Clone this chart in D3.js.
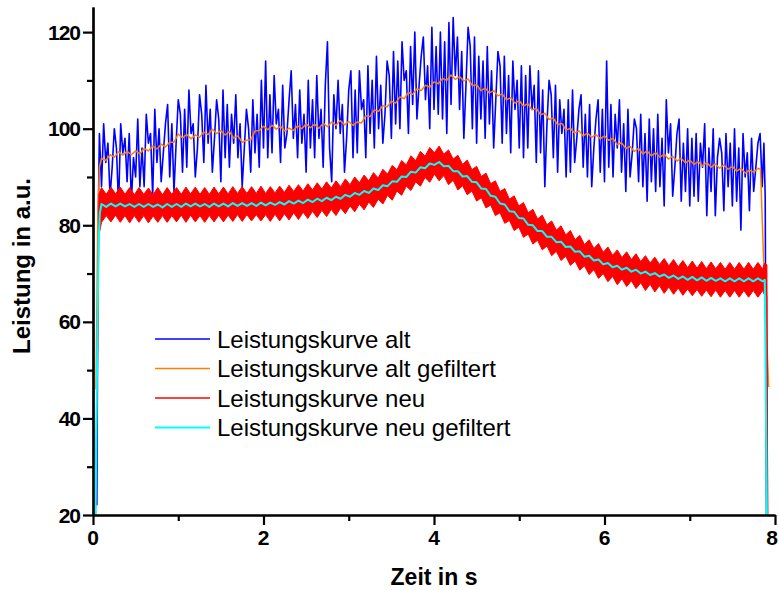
<!DOCTYPE html>
<html><head><meta charset="utf-8">
<script src="https://cdn.jsdelivr.net/npm/d3@7"></script>
<style>body{margin:0;background:#fff}svg{display:block}text{font-family:"Liberation Sans",Arial,sans-serif}</style>
</head><body><svg id="c" width="779" height="590"></svg>
<script>
// ---------- axes ----------
const xTicks = [0, 2, 4, 6, 8];
const xMinorTicks = [1, 3, 5, 7];
const yTicks = [20, 40, 60, 80, 100, 120];
const yMinorTicks = [30, 50, 70, 90, 110];
const xTitle = "Zeit in s";
const yTitle = "Leistung in a.u.";
const seriesNames = ["Leistungskurve alt", "Leistungskurve alt gefiltert", "Leistungskurve neu", "Leistungskurve neu gefiltert"];

// ---------- Leistungskurve alt (blue), sampled every 0.025 s from 0.075 s ----------
const altStart = 0.075, altStep = 0.025;
const altHeadT = [0.045, 0.06], altHeadV = [22, 80];
const altVals = [
99,88,101,93,97,86,92,100,96,84,101,95,98,89,99,85,94,90,102,88,
96,88,103,97,99,86,104,93,100,89,95,101,105,90,101,87,97,106,103,91,
104,92,108,99,101,90,96,107,103,93,109,97,104,91,98,106,102,89,108,94,
105,92,103,97,107,94,101,88,96,104,100,91,106,95,103,92,110,96,114,94,
107,95,111,101,104,93,109,96,99,106,112,98,105,94,108,97,103,91,110,96,
106,94,111,98,104,92,109,118,96,89,107,100,110,99,105,91,98,108,112,94,
108,95,112,104,106,94,113,99,110,96,115,100,109,97,103,114,111,98,116,101,
114,100,118,110,112,99,117,105,120,102,109,115,119,106,113,100,121,104,117,103,
120,102,118,99,122,105,123,111,119,104,116,98,109,121,117,100,119,97,115,102,
114,98,117,101,112,96,106,116,113,97,115,99,111,95,114,104,110,96,113,94,
111,96,113,104,109,93,112,95,108,88,101,110,107,94,109,91,106,99,104,90,
106,91,108,93,98,104,107,92,103,90,105,88,96,102,106,91,104,89,114,92,
105,90,103,96,106,91,101,87,104,90,95,102,100,89,103,88,99,85,102,89,
100,87,103,88,98,84,106,95,101,86,92,99,102,85,97,87,100,84,98,86,
99,85,97,92,101,82,96,87,100,82,94,98,95,83,99,88,97,84,100,85,
96,79,99,90,95,83,98,87,92,97,99,88];
const altTailT = [7.87, 7.885, 7.9], altTailV = [97, 86, 20];

// ---------- Leistungskurve alt gefiltert (orange), every 0.05 s from 0.1 s ----------
const altFStart = 0.1, altFStep = 0.05;
const altFHeadT = [0.035, 0.055, 0.075], altFHeadV = [46, 80, 92];
const altFVals = [
93.9,93.4,94.6,94.1,95.2,94.5,95.3,94.6,95.4,94.8,
95.9,95.4,96.4,95.8,96.8,96.2,97.2,97.2,98.9,98.1,
98.8,97.9,98.7,98.2,99.3,98.8,99.9,99.0,99.6,98.7,
99.4,98.1,98.5,97.2,97.6,97.7,99.5,99.6,100.5,99.8,
100.7,99.9,100.5,99.5,100.1,99.6,100.6,100.0,101.0,100.2,
100.9,100.1,101.1,100.4,101.4,100.7,101.7,100.8,101.5,100.7,
101.4,101.2,102.7,102.5,103.9,103.6,104.8,104.5,105.7,105.3,
106.6,106.2,107.5,107.1,108.3,107.9,109.0,108.6,109.7,109.3,
110.4,110.0,111.1,110.2,110.8,109.9,110.3,108.9,109.1,107.9,
108.4,107.4,107.9,106.8,107.2,106.0,106.4,105.3,105.8,104.7,
105.2,103.9,104.2,102.9,103.2,101.9,102.2,100.8,101.1,99.7,
100.1,99.1,99.6,98.5,99.1,98.2,98.8,97.9,98.5,97.6,
98.0,96.7,97.1,95.9,96.3,95.3,95.9,94.8,95.4,94.4,
95.0,94.1,94.7,93.7,94.3,93.3,93.9,92.9,93.5,92.6,
93.2,92.3,93.0,92.0,92.7,91.8,92.5,91.6,92.2,91.2,
91.8,90.8,91.4,91.0,91.8];
const altFTailT = [7.83, 7.87, 7.925], altFTailV = [91.6, 71, 46.5];

// ---------- Leistungskurve neu (red band: min / max), every 0.055 s from 0.1 s ----------
const neuStart = 0.1, neuStep = 0.055;
const neuHeadT = [0.03, 0.05, 0.07], neuHeadLo = [20, 46, 78], neuHeadHi = [22, 60, 86.5];
const neuHi = [
87.8,86.4,87.9,86.5,87.9,86.4,87.8,86.3,87.8,86.4,
87.7,86.3,87.8,86.3,87.8,86.4,87.8,86.4,87.9,86.5,
87.9,86.4,87.8,86.4,87.9,86.5,87.9,86.5,88.0,86.6,
88.0,86.6,88.0,86.6,88.1,86.6,88.0,86.7,88.1,86.8,
88.3,87.0,88.4,87.1,88.6,87.3,88.8,87.5,89.0,87.7,
89.2,88.0,89.6,88.4,90.0,88.8,90.4,89.2,90.9,89.8,
91.6,90.6,92.4,91.5,93.4,92.5,94.4,93.4,95.3,94.3,
96.1,95.0,96.4,94.7,95.6,93.7,94.5,92.6,93.5,91.5,
92.2,90.1,90.8,88.6,89.2,87.0,87.6,85.4,86.1,84.0,
84.7,82.6,83.3,81.3,82.1,80.1,80.9,79.0,79.9,78.0,
78.9,77.0,77.9,76.0,77.0,75.2,76.2,74.4,75.5,73.8,
74.9,73.3,74.5,72.9,74.1,72.5,73.7,72.2,73.4,71.9,
73.1,71.6,72.9,71.4,72.7,71.2,72.6,71.1,72.5,71.0,
72.4,71.0,72.3,70.9,72.3,70.9,72.3,70.9,72.3,70.9,
72.3,70.9];
const neuLo = [
80.6,82.0,80.7,82.1,80.6,82.0,80.5,82.0,80.6,82.0,
80.5,81.9,80.6,82.0,80.6,82.0,80.7,82.1,80.6,82.1,
80.7,82.0,80.6,82.0,80.7,82.1,80.7,82.1,80.8,82.2,
80.8,82.2,80.9,82.2,80.9,82.2,80.8,82.3,80.9,82.4,
81.1,82.6,81.2,82.7,81.4,82.9,81.6,83.1,81.8,83.3,
82.0,83.6,82.4,84.0,82.8,84.4,83.2,84.8,83.7,85.4,
84.4,86.2,85.2,87.1,86.2,88.1,87.2,89.0,88.1,89.9,
88.9,90.6,89.2,90.3,88.4,89.3,87.3,88.2,86.3,87.1,
85.0,85.7,83.6,84.2,82.0,82.6,80.4,81.0,78.9,79.6,
77.5,78.2,76.1,76.9,74.9,75.7,73.7,74.6,72.7,73.6,
71.7,72.6,70.7,71.6,69.8,70.8,69.0,70.0,68.3,69.4,
67.7,68.9,67.3,68.5,66.9,68.1,66.5,67.8,66.2,67.5,
65.9,67.2,65.7,67.0,65.5,66.8,65.4,66.7,65.3,66.6,
65.2,66.6,65.1,66.5,65.1,66.5,65.1,66.5,65.1,66.5,
65.1,66.5];
const neuTailT = [7.875, 7.905, 7.915], neuTailLo = [65.6, 65.5, 20], neuTailHi = [72.1, 71.8, 20];

// ---------- Leistungskurve neu gefiltert (cyan), every 0.055 s from 0.1 s ----------
const neuFHeadT = [0.03, 0.05, 0.065, 0.08], neuFHeadV = [20, 55, 76, 82.5];
const neuFVals = [
84.4,83.8,84.5,83.9,84.5,83.9,84.4,83.8,84.4,83.8,
84.4,83.8,84.3,83.7,84.4,83.8,84.4,83.8,84.5,83.9,
84.5,83.9,84.4,83.8,84.5,83.9,84.5,83.9,84.6,84.0,
84.6,84.0,84.6,84.0,84.7,84.1,84.7,84.2,84.8,84.3,
85.0,84.5,85.1,84.6,85.3,84.8,85.5,85.0,85.7,85.2,
85.9,85.5,86.3,85.9,86.7,86.3,87.1,86.7,87.6,87.3,
88.3,88.1,89.1,89.0,90.1,90.0,91.1,90.9,92.0,91.8,
92.8,92.5,93.1,92.2,92.3,91.2,91.2,90.1,90.2,89.0,
88.9,87.6,87.5,86.1,85.9,84.5,84.3,82.9,82.8,81.5,
81.4,80.1,80.0,78.8,78.8,77.6,77.6,76.5,76.6,75.5,
75.6,74.5,74.6,73.5,73.7,72.7,72.9,71.9,72.2,71.3,
71.6,70.8,71.2,70.4,70.8,70.0,70.4,69.7,70.1,69.4,
69.8,69.1,69.6,68.9,69.4,68.7,69.3,68.6,69.2,68.5,
69.1,68.5,69.0,68.4,69.0,68.4,69.0,68.4,69.0,68.4,
69.0,68.4];
const neuFTailT = [7.88, 7.905], neuFTailV = [68.7, 20];

// ---------- build ----------
function series(headT, headV, t0, dt, vals, tailT, tailV) {
  const a = headT.map((t, i) => [t, headV[i]]);
  vals.forEach((v, i) => a.push([t0 + dt * i, v]));
  tailT.forEach((t, i) => a.push([t, tailV[i]]));
  return a;
}
function band(headT, hl, hh, t0, dt, lo, hi, tailT, tl, th) {
  const a = headT.map((t, i) => [t, hl[i], hh[i]]);
  lo.forEach((v, i) => a.push([t0 + dt * i, v, hi[i]]));
  tailT.forEach((t, i) => a.push([t, tl[i], th[i]]));
  return a;
}
const altData = series(altHeadT, altHeadV, altStart, altStep, altVals, altTailT, altTailV);
const altFData = series(altFHeadT, altFHeadV, altFStart, altFStep, altFVals, altFTailT, altFTailV);
const neuData = band(neuHeadT, neuHeadLo, neuHeadHi, neuStart, neuStep, neuLo, neuHi, neuTailT, neuTailLo, neuTailHi);
const neuFData = series(neuFHeadT, neuFHeadV, neuStart, neuStep, neuFVals, neuFTailT, neuFTailV);

const svg = d3.select("#c");
const x = d3.scaleLinear().domain([0, 8]).range([93, 775]);
const y = d3.scaleLinear().domain([20, 125.2]).range([515, 7]);

const line = d3.line().x(d => x(d[0])).y(d => y(d[1]));
const area = d3.area().x(d => x(d[0])).y0(d => y(d[1])).y1(d => y(d[2]));

const colors = ["#0000ff", "#ff8000", "#ff0000", "#00ffff"];
const widths = [1.6, 1.5, 1.5, 2];

svg.append("path").datum(altData).attr("d", line).attr("fill", "none")
  .attr("stroke", colors[0]).attr("stroke-width", widths[0]).attr("stroke-linejoin", "round");
svg.append("path").datum(altFData).attr("d", line).attr("fill", "none")
  .attr("stroke", colors[1]).attr("stroke-width", widths[1]).attr("stroke-linejoin", "round");
svg.append("path").datum(neuData).attr("d", area).attr("fill", colors[2])
  .attr("stroke", colors[2]).attr("stroke-width", 1);
svg.append("path").datum(neuFData).attr("d", line).attr("fill", "none")
  .attr("stroke", colors[3]).attr("stroke-width", widths[3]).attr("stroke-linejoin", "round");

// ---------- axes ----------
const ax = svg.append("g");
ax.append("g").attr("transform", "translate(93,0)")
  .call(d3.axisLeft(y).tickValues(yTicks).tickSize(10).tickSizeOuter(0).tickFormat(""));
ax.append("g").attr("transform", "translate(93,0)")
  .call(d3.axisLeft(y).tickValues(yMinorTicks).tickSize(6).tickSizeOuter(0).tickFormat(""));
ax.append("g").attr("transform", "translate(0,515)")
  .call(d3.axisBottom(x).tickValues(xTicks).tickSize(10).tickSizeOuter(0).tickFormat(""));
ax.append("g").attr("transform", "translate(0,515)")
  .call(d3.axisBottom(x).tickValues(xMinorTicks).tickSize(6).tickSizeOuter(0).tickFormat(""));
ax.selectAll(".domain").attr("stroke", "#000").attr("stroke-width", 2.2);
ax.selectAll(".tick line").attr("stroke", "#000").attr("stroke-width", 2.2);

ax.selectAll(".ylab").data(yTicks).join("text").attr("class", "ylab")
  .attr("x", 80).attr("y", d => y(d)).attr("dy", "0.36em")
  .attr("text-anchor", "end").attr("font-weight", "bold").attr("font-size", 21)
  .attr("letter-spacing", -1).text(d => d);
ax.selectAll(".xlab").data(xTicks).join("text").attr("class", "xlab")
  .attr("x", d => Math.min(x(d), 772)).attr("y", 545)
  .attr("text-anchor", "middle").attr("font-weight", "bold").attr("font-size", 21).text(d => d);

svg.append("text").attr("x", 434).attr("y", 585).attr("text-anchor", "middle")
  .attr("font-weight", "bold").attr("font-size", 23).text(xTitle);
svg.append("text").attr("transform", "translate(30,266) rotate(-90)").attr("text-anchor", "middle")
  .attr("font-weight", "bold").attr("font-size", 24).text(yTitle);

// ---------- legend ----------
const lg = svg.append("g");
const legY = [339, 368.5, 398, 427.5];
seriesNames.forEach((n, i) => {
  lg.append("line").attr("x1", 155).attr("x2", 210).attr("y1", legY[i]).attr("y2", legY[i])
    .attr("stroke", colors[i]).attr("stroke-width", i === 3 ? 2.2 : 1.6);
  lg.append("text").attr("x", 217).attr("y", legY[i]).attr("dy", "0.36em")
    .attr("font-size", 24).attr("fill", "#000").text(n);
});
</script>
</body></html>
